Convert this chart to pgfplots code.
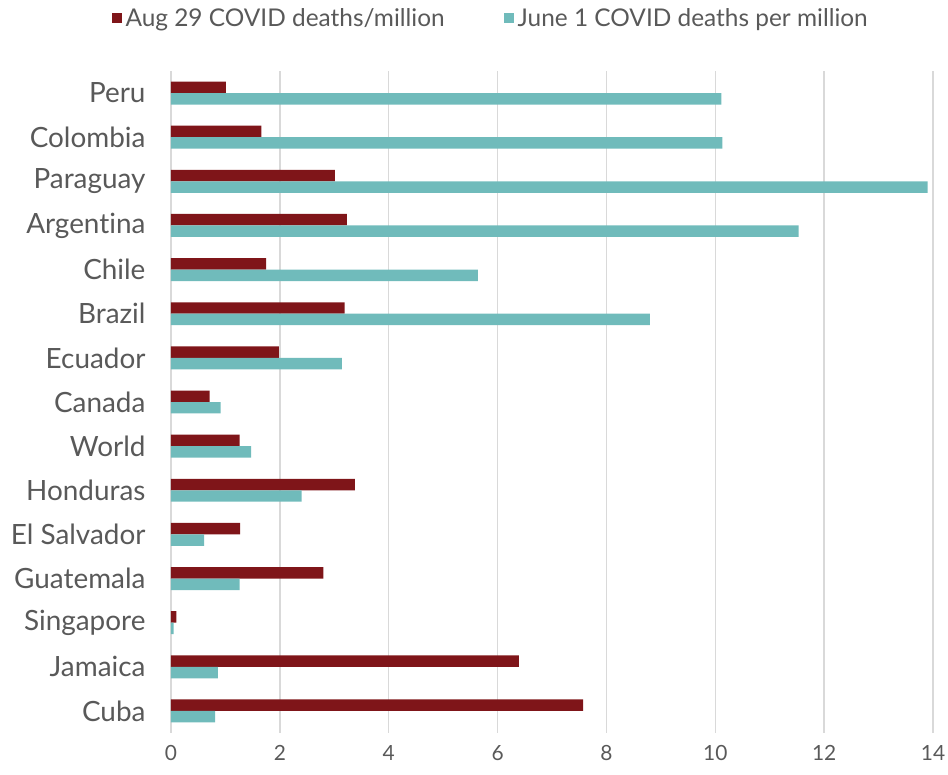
\documentclass[border=0pt]{standalone}
\usepackage{fontspec}
\setmainfont{Lato}[Ligatures=NoCommon]
\usepackage{pgfplots}
\usepackage{pgfplotstable}
\pgfplotsset{compat=1.18}

\definecolor{augred}{HTML}{7F1519}
\definecolor{juneteal}{HTML}{70BBBB}
\definecolor{txtgray}{HTML}{595959}
\definecolor{gridgray}{HTML}{D9D9D9}

% COVID deaths per million: Aug 29 vs June 1
\pgfplotstableread{
idx aug  june
0   1.01 10.11
1   1.66 10.13
2   3.01 13.90
3   3.23 11.53
4   1.75 5.64
5   3.19 8.80
6   1.98 3.14
7   0.71 0.91
8   1.26 1.47
9   3.38 2.40
10  1.27 0.61
11  2.80 1.26
12  0.10 0.05
13  6.39 0.86
14  7.57 0.81
}\deaths

\begin{document}
\begin{tikzpicture}
\path[use as bounding box] (-171bp,-42bp) rectangle (777bp,733bp);
\begin{axis}[
  at={(0,0)}, anchor=south west,
  scale only axis, width=762bp, height=662bp,
  xbar, bar width=0.26,
  xmin=0, xmax=14, ymin=-0.5, ymax=14.5, y dir=reverse,
  xtick={0,2,...,14},
  ytick={0,...,14},
  yticklabels={Peru,Colombia,Paraguay,Argentina,Chile,Brazil,Ecuador,Canada,World,Honduras,El Salvador,Guatemala,Singapore,Jamaica,Cuba},
  xmajorgrids, grid style={gridgray, line width=1.5bp},
  axis line style={draw=none},
  major tick length=0pt,
  /pgf/number format/assume math mode=true,
  xticklabel style={font=\fontsize{21}{21}\selectfont, text=txtgray, yshift=-9bp},
  yticklabel style={font=\fontsize{28}{28}\selectfont, text=txtgray, xshift=-22bp},
  legend columns=2,
  legend style={draw=none, fill=none, at={(axis description cs:-0.078,1.098)}, anchor=north west,
    font=\fontsize{24.5}{24.5}\selectfont, text=txtgray,
    /tikz/every even column/.append style={column sep=55bp},
    nodes={inner xsep=4bp},
    inner sep=0pt, outer sep=0pt},
  legend image code/.code={\fill[#1] (0bp,-5bp) rectangle (10bp,5bp);},
]
\addplot[fill=augred, draw=none, bar shift=-0.13] table[x=aug, y=idx] {\deaths};
\addlegendentry{Aug 29 COVID deaths/million}
\addplot[fill=juneteal, draw=none, bar shift=0.13] table[x=june, y=idx] {\deaths};
\addlegendentry{June 1 COVID deaths per million}
\end{axis}
\end{tikzpicture}
\end{document}
